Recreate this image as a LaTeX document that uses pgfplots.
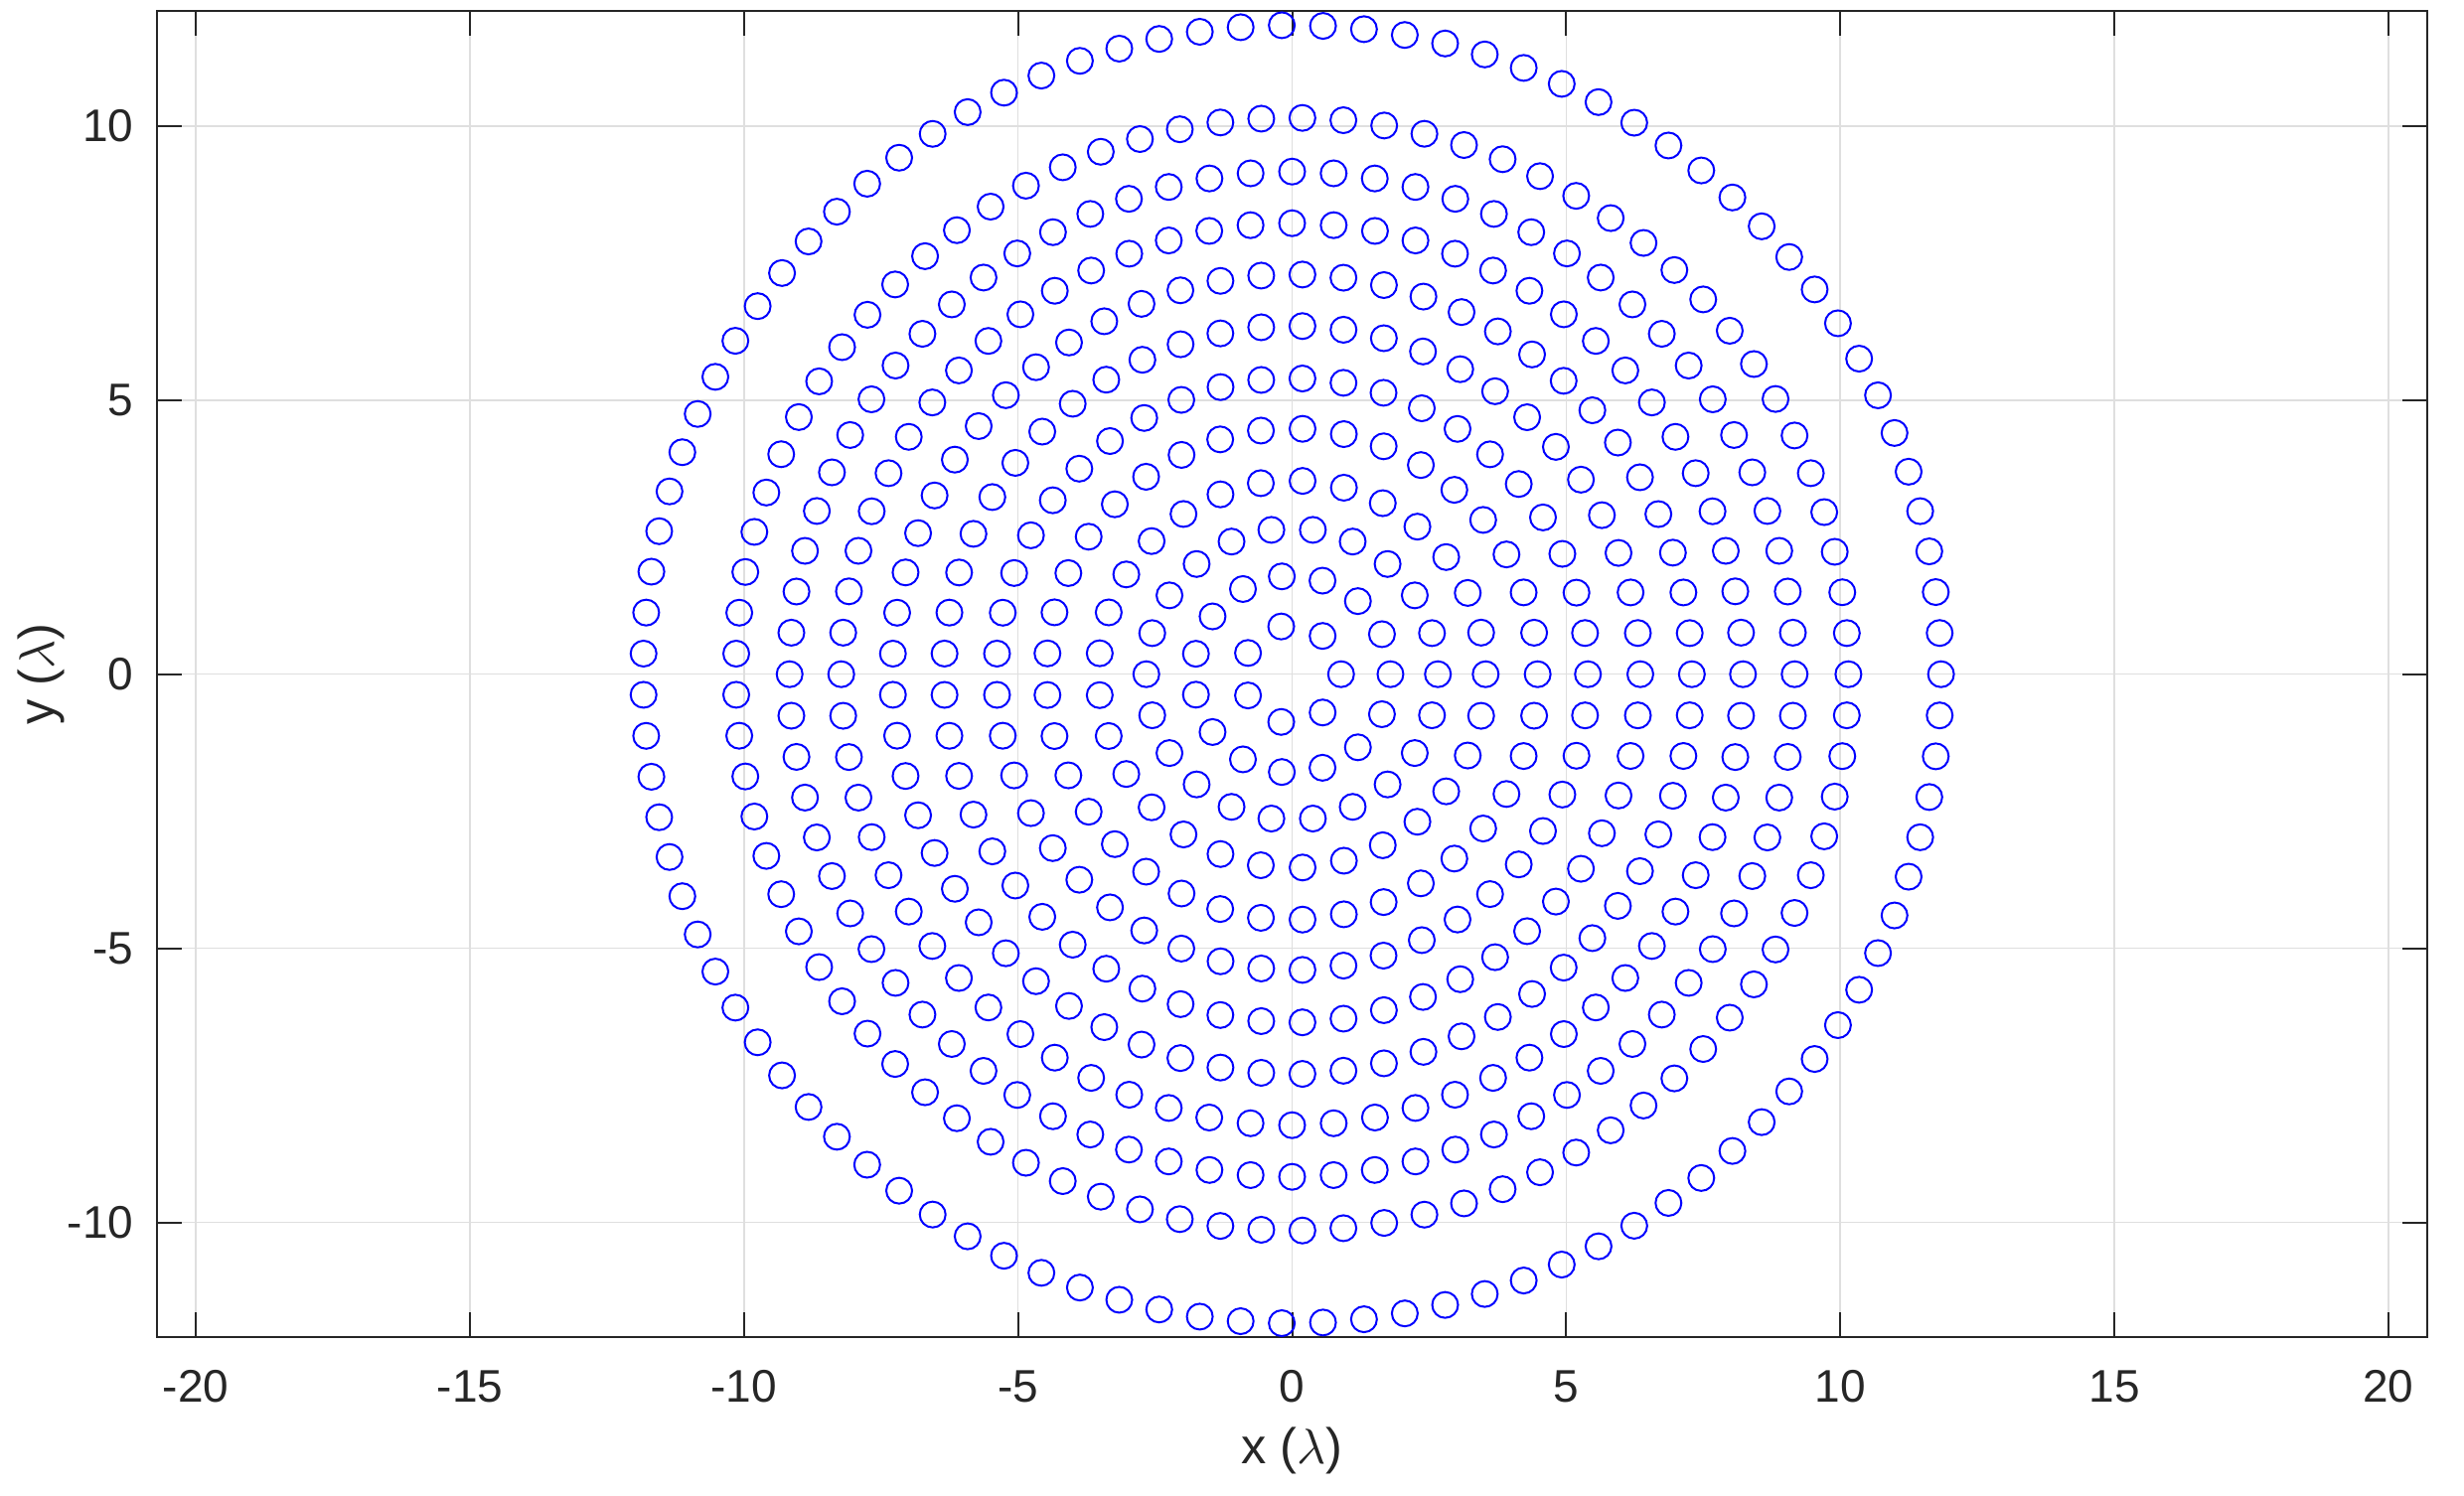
\documentclass[border=0pt]{standalone}
\usepackage{fontspec}
\setmainfont{Liberation Sans}
\usepackage{pgfplots}
\pgfplotsset{compat=1.18}
\definecolor{axgray}{RGB}{38,38,38}
\definecolor{gridgray}{RGB}{223,223,223}
\pgfplotsset{ring/.style={only marks, mark=o, mark size=2.6pt, color=blue, line width=0.4pt, data cs=polar}}
\begin{document}
\begin{tikzpicture}
\begin{axis}[
 scale only axis, width=457pt, height=266.9pt,
 xmin=-20.71, xmax=20.71, ymin=-12.09, ymax=12.09,
 xtick={-20,-15,-10,-5,0,5,10,15,20}, ytick={-10,-5,0,5,10},
 tick align=inside, tick pos=both, major tick length=5pt,
 grid=major, major grid style={gridgray, line width=0.3pt},
 axis line style={axgray, line width=0.4pt},
 tick style={axgray, line width=0.4pt},
 /pgf/number format/assume math mode=true,
 ticklabel style={font=\fontsize{9.2}{11}\selectfont, text=axgray},
 xticklabel style={yshift=-3.2pt},
 yticklabel style={xshift=-1.2pt},
 xlabel={x ($\lambda$)}, ylabel={y ($\lambda$)},
 label style={font=\fontsize{10.1}{12}\selectfont, text=axgray},
 xlabel style={at={(rel axis cs:0.5,0)}, anchor=center, yshift=-22.8pt},
 ylabel style={at={(rel axis cs:0,0.5)}, anchor=center, rotate=0, yshift=23.4pt},
]
% ring 1: 7 elements
\addplot[ring] coordinates {(0,0.893) (51.43,0.893) (102.86,0.893) (154.29,0.893) (205.71,0.893) (257.14,0.893) (308.57,0.893)};
% ring 2: 15 elements
\addplot[ring] coordinates {(0,1.794) (24,1.794) (48,1.794) (72,1.794) (96,1.794) (120,1.794) (144,1.794) (168,1.794) (192,1.794) (216,1.794) (240,1.794) (264,1.794) (288,1.794) (312,1.794) (336,1.794)};
% ring 3: 22 elements
\addplot[ring] coordinates {(0,2.66) (16.36,2.66) (32.73,2.66) (49.09,2.66) (65.45,2.66) (81.82,2.66) (98.18,2.66) (114.55,2.66) (130.91,2.66) (147.27,2.66) (163.64,2.66) (180,2.66) (196.36,2.66) (212.73,2.66) (229.09,2.66) (245.45,2.66) (261.82,2.66) (278.18,2.66) (294.55,2.66) (310.91,2.66) (327.27,2.66) (343.64,2.66)};
% ring 4: 29 elements
\addplot[ring] coordinates {(0,3.531) (12.41,3.531) (24.83,3.531) (37.24,3.531) (49.66,3.531) (62.07,3.531) (74.48,3.531) (86.90,3.531) (99.31,3.531) (111.72,3.531) (124.14,3.531) (136.55,3.531) (148.97,3.531) (161.38,3.531) (173.79,3.531) (186.21,3.531) (198.62,3.531) (211.03,3.531) (223.45,3.531) (235.86,3.531) (248.28,3.531) (260.69,3.531) (273.10,3.531) (285.52,3.531) (297.93,3.531) (310.34,3.531) (322.76,3.531) (335.17,3.531) (347.59,3.531)};
% ring 5: 37 elements
\addplot[ring] coordinates {(0,4.48) (9.73,4.48) (19.46,4.48) (29.19,4.48) (38.92,4.48) (48.65,4.48) (58.38,4.48) (68.11,4.48) (77.84,4.48) (87.57,4.48) (97.30,4.48) (107.03,4.48) (116.76,4.48) (126.49,4.48) (136.22,4.48) (145.95,4.48) (155.68,4.48) (165.41,4.48) (175.14,4.48) (184.86,4.48) (194.59,4.48) (204.32,4.48) (214.05,4.48) (223.78,4.48) (233.51,4.48) (243.24,4.48) (252.97,4.48) (262.70,4.48) (272.43,4.48) (282.16,4.48) (291.89,4.48) (301.62,4.48) (311.35,4.48) (321.08,4.48) (330.81,4.48) (340.54,4.48) (350.27,4.48)};
% ring 6: 45 elements
\addplot[ring] coordinates {(0,5.397) (8,5.397) (16,5.397) (24,5.397) (32,5.397) (40,5.397) (48,5.397) (56,5.397) (64,5.397) (72,5.397) (80,5.397) (88,5.397) (96,5.397) (104,5.397) (112,5.397) (120,5.397) (128,5.397) (136,5.397) (144,5.397) (152,5.397) (160,5.397) (168,5.397) (176,5.397) (184,5.397) (192,5.397) (200,5.397) (208,5.397) (216,5.397) (224,5.397) (232,5.397) (240,5.397) (248,5.397) (256,5.397) (264,5.397) (272,5.397) (280,5.397) (288,5.397) (296,5.397) (304,5.397) (312,5.397) (320,5.397) (328,5.397) (336,5.397) (344,5.397) (352,5.397)};
% ring 7: 53 elements
\addplot[ring] coordinates {(0,6.353) (6.79,6.353) (13.58,6.353) (20.38,6.353) (27.17,6.353) (33.96,6.353) (40.75,6.353) (47.55,6.353) (54.34,6.353) (61.13,6.353) (67.92,6.353) (74.72,6.353) (81.51,6.353) (88.30,6.353) (95.09,6.353) (101.89,6.353) (108.68,6.353) (115.47,6.353) (122.26,6.353) (129.06,6.353) (135.85,6.353) (142.64,6.353) (149.43,6.353) (156.23,6.353) (163.02,6.353) (169.81,6.353) (176.60,6.353) (183.40,6.353) (190.19,6.353) (196.98,6.353) (203.77,6.353) (210.57,6.353) (217.36,6.353) (224.15,6.353) (230.94,6.353) (237.74,6.353) (244.53,6.353) (251.32,6.353) (258.11,6.353) (264.91,6.353) (271.70,6.353) (278.49,6.353) (285.28,6.353) (292.08,6.353) (298.87,6.353) (305.66,6.353) (312.45,6.353) (319.25,6.353) (326.04,6.353) (332.83,6.353) (339.62,6.353) (346.42,6.353) (353.21,6.353)};
% ring 8: 61 elements
\addplot[ring] coordinates {(0,7.293) (5.90,7.293) (11.80,7.293) (17.70,7.293) (23.61,7.293) (29.51,7.293) (35.41,7.293) (41.31,7.293) (47.21,7.293) (53.11,7.293) (59.02,7.293) (64.92,7.293) (70.82,7.293) (76.72,7.293) (82.62,7.293) (88.52,7.293) (94.43,7.293) (100.33,7.293) (106.23,7.293) (112.13,7.293) (118.03,7.293) (123.93,7.293) (129.84,7.293) (135.74,7.293) (141.64,7.293) (147.54,7.293) (153.44,7.293) (159.34,7.293) (165.25,7.293) (171.15,7.293) (177.05,7.293) (182.95,7.293) (188.85,7.293) (194.75,7.293) (200.66,7.293) (206.56,7.293) (212.46,7.293) (218.36,7.293) (224.26,7.293) (230.16,7.293) (236.07,7.293) (241.97,7.293) (247.87,7.293) (253.77,7.293) (259.67,7.293) (265.57,7.293) (271.48,7.293) (277.38,7.293) (283.28,7.293) (289.18,7.293) (295.08,7.293) (300.98,7.293) (306.89,7.293) (312.79,7.293) (318.69,7.293) (324.59,7.293) (330.49,7.293) (336.39,7.293) (342.30,7.293) (348.20,7.293) (354.10,7.293)};
% ring 9: 68 elements
\addplot[ring] coordinates {(0,8.226) (5.29,8.226) (10.59,8.226) (15.88,8.226) (21.18,8.226) (26.47,8.226) (31.76,8.226) (37.06,8.226) (42.35,8.226) (47.65,8.226) (52.94,8.226) (58.24,8.226) (63.53,8.226) (68.82,8.226) (74.12,8.226) (79.41,8.226) (84.71,8.226) (90,8.226) (95.29,8.226) (100.59,8.226) (105.88,8.226) (111.18,8.226) (116.47,8.226) (121.76,8.226) (127.06,8.226) (132.35,8.226) (137.65,8.226) (142.94,8.226) (148.24,8.226) (153.53,8.226) (158.82,8.226) (164.12,8.226) (169.41,8.226) (174.71,8.226) (180,8.226) (185.29,8.226) (190.59,8.226) (195.88,8.226) (201.18,8.226) (206.47,8.226) (211.76,8.226) (217.06,8.226) (222.35,8.226) (227.65,8.226) (232.94,8.226) (238.24,8.226) (243.53,8.226) (248.82,8.226) (254.12,8.226) (259.41,8.226) (264.71,8.226) (270,8.226) (275.29,8.226) (280.59,8.226) (285.88,8.226) (291.18,8.226) (296.47,8.226) (301.76,8.226) (307.06,8.226) (312.35,8.226) (317.65,8.226) (322.94,8.226) (328.24,8.226) (333.53,8.226) (338.82,8.226) (344.12,8.226) (349.41,8.226) (354.71,8.226)};
% ring 10: 76 elements
\addplot[ring] coordinates {(0,9.168) (4.74,9.168) (9.47,9.168) (14.21,9.168) (18.95,9.168) (23.68,9.168) (28.42,9.168) (33.16,9.168) (37.89,9.168) (42.63,9.168) (47.37,9.168) (52.11,9.168) (56.84,9.168) (61.58,9.168) (66.32,9.168) (71.05,9.168) (75.79,9.168) (80.53,9.168) (85.26,9.168) (90,9.168) (94.74,9.168) (99.47,9.168) (104.21,9.168) (108.95,9.168) (113.68,9.168) (118.42,9.168) (123.16,9.168) (127.89,9.168) (132.63,9.168) (137.37,9.168) (142.11,9.168) (146.84,9.168) (151.58,9.168) (156.32,9.168) (161.05,9.168) (165.79,9.168) (170.53,9.168) (175.26,9.168) (180,9.168) (184.74,9.168) (189.47,9.168) (194.21,9.168) (198.95,9.168) (203.68,9.168) (208.42,9.168) (213.16,9.168) (217.89,9.168) (222.63,9.168) (227.37,9.168) (232.11,9.168) (236.84,9.168) (241.58,9.168) (246.32,9.168) (251.05,9.168) (255.79,9.168) (260.53,9.168) (265.26,9.168) (270,9.168) (274.74,9.168) (279.47,9.168) (284.21,9.168) (288.95,9.168) (293.68,9.168) (298.42,9.168) (303.16,9.168) (307.89,9.168) (312.63,9.168) (317.37,9.168) (322.11,9.168) (326.84,9.168) (331.58,9.168) (336.32,9.168) (341.05,9.168) (345.79,9.168) (350.53,9.168) (355.26,9.168)};
% ring 11: 85 elements
\addplot[ring] coordinates {(0,10.149) (4.24,10.149) (8.47,10.149) (12.71,10.149) (16.94,10.149) (21.18,10.149) (25.41,10.149) (29.65,10.149) (33.88,10.149) (38.12,10.149) (42.35,10.149) (46.59,10.149) (50.82,10.149) (55.06,10.149) (59.29,10.149) (63.53,10.149) (67.76,10.149) (72,10.149) (76.24,10.149) (80.47,10.149) (84.71,10.149) (88.94,10.149) (93.18,10.149) (97.41,10.149) (101.65,10.149) (105.88,10.149) (110.12,10.149) (114.35,10.149) (118.59,10.149) (122.82,10.149) (127.06,10.149) (131.29,10.149) (135.53,10.149) (139.76,10.149) (144,10.149) (148.24,10.149) (152.47,10.149) (156.71,10.149) (160.94,10.149) (165.18,10.149) (169.41,10.149) (173.65,10.149) (177.88,10.149) (182.12,10.149) (186.35,10.149) (190.59,10.149) (194.82,10.149) (199.06,10.149) (203.29,10.149) (207.53,10.149) (211.76,10.149) (216,10.149) (220.24,10.149) (224.47,10.149) (228.71,10.149) (232.94,10.149) (237.18,10.149) (241.41,10.149) (245.65,10.149) (249.88,10.149) (254.12,10.149) (258.35,10.149) (262.59,10.149) (266.82,10.149) (271.06,10.149) (275.29,10.149) (279.53,10.149) (283.76,10.149) (288,10.149) (292.24,10.149) (296.47,10.149) (300.71,10.149) (304.94,10.149) (309.18,10.149) (313.41,10.149) (317.65,10.149) (321.88,10.149) (326.12,10.149) (330.35,10.149) (334.59,10.149) (338.82,10.149) (343.06,10.149) (347.29,10.149) (351.53,10.149) (355.76,10.149)};
% ring 12: 99 elements
\addplot[ring] coordinates {(0,11.839) (3.64,11.839) (7.27,11.839) (10.91,11.839) (14.55,11.839) (18.18,11.839) (21.82,11.839) (25.45,11.839) (29.09,11.839) (32.73,11.839) (36.36,11.839) (40,11.839) (43.64,11.839) (47.27,11.839) (50.91,11.839) (54.55,11.839) (58.18,11.839) (61.82,11.839) (65.45,11.839) (69.09,11.839) (72.73,11.839) (76.36,11.839) (80,11.839) (83.64,11.839) (87.27,11.839) (90.91,11.839) (94.55,11.839) (98.18,11.839) (101.82,11.839) (105.45,11.839) (109.09,11.839) (112.73,11.839) (116.36,11.839) (120,11.839) (123.64,11.839) (127.27,11.839) (130.91,11.839) (134.55,11.839) (138.18,11.839) (141.82,11.839) (145.45,11.839) (149.09,11.839) (152.73,11.839) (156.36,11.839) (160,11.839) (163.64,11.839) (167.27,11.839) (170.91,11.839) (174.55,11.839) (178.18,11.839) (181.82,11.839) (185.45,11.839) (189.09,11.839) (192.73,11.839) (196.36,11.839) (200,11.839) (203.64,11.839) (207.27,11.839) (210.91,11.839) (214.55,11.839) (218.18,11.839) (221.82,11.839) (225.45,11.839) (229.09,11.839) (232.73,11.839) (236.36,11.839) (240,11.839) (243.64,11.839) (247.27,11.839) (250.91,11.839) (254.55,11.839) (258.18,11.839) (261.82,11.839) (265.45,11.839) (269.09,11.839) (272.73,11.839) (276.36,11.839) (280,11.839) (283.64,11.839) (287.27,11.839) (290.91,11.839) (294.55,11.839) (298.18,11.839) (301.82,11.839) (305.45,11.839) (309.09,11.839) (312.73,11.839) (316.36,11.839) (320,11.839) (323.64,11.839) (327.27,11.839) (330.91,11.839) (334.55,11.839) (338.18,11.839) (341.82,11.839) (345.45,11.839) (349.09,11.839) (352.73,11.839) (356.36,11.839)};
\coordinate (bl) at (rel axis cs:0,0);
\coordinate (tr) at (rel axis cs:1,1);
\end{axis}
\pgfresetboundingbox
\path ([shift={(-31.6pt,-32pt)}]bl) rectangle ([shift={(7.4pt,2.3pt)}]tr);
\end{tikzpicture}
\end{document}
